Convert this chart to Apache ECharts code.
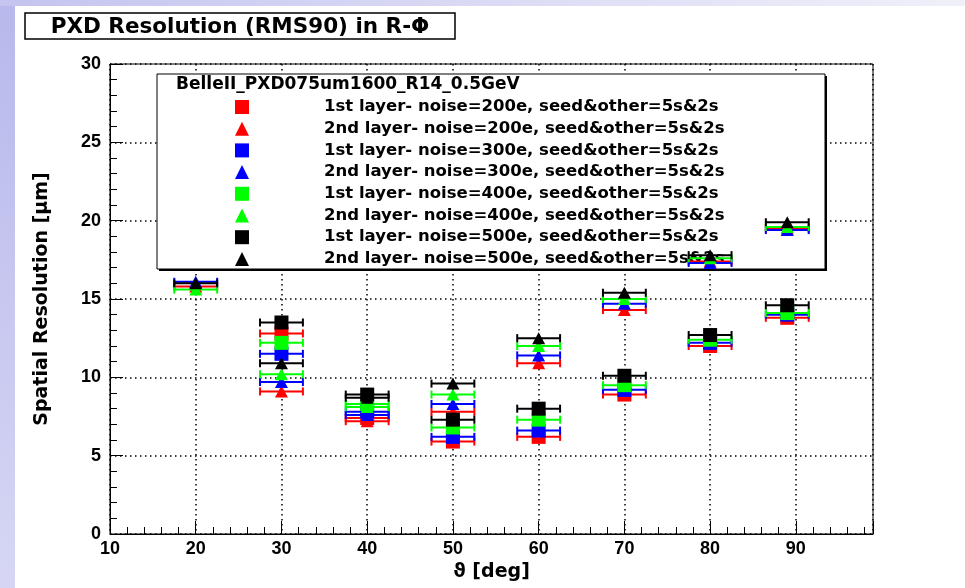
<!DOCTYPE html>
<html><head><meta charset="utf-8">
<script src="https://cdn.jsdelivr.net/npm/echarts@6/dist/echarts.min.js"></script>
<style>html,body{margin:0;padding:0;background:#fff}#c{width:965px;height:588px}</style>
</head><body><div id="c"></div>
<script>
// ---------- texts ----------
const titleText = 'PXD Resolution (RMS90) in R-\u03A6';
const legendHeader = 'BelleII_PXD075um1600_R14_0.5GeV';
const xAxisTitle = '\u03D1 [deg]';
const yAxisTitle = 'Spatial Resolution [\u03BCm]';
// ---------- axes ----------
const xTicks = [10, 20, 30, 40, 50, 60, 70, 80, 90];
const xRange = [10, 99];
const yTicks = [0, 5, 10, 15, 20, 25, 30];
// ---------- data ----------
const xHalfErr = 2.5; // horizontal error (deg)
const anglesL1 = [30, 40, 50, 60, 70, 80, 89];
const anglesL2 = [20, 30, 40, 50, 60, 70, 80, 89];
const seriesNames = [
  '1st layer- noise=200e, seed&other=5s&2s',
  '2nd layer- noise=200e, seed&other=5s&2s',
  '1st layer- noise=300e, seed&other=5s&2s',
  '2nd layer- noise=300e, seed&other=5s&2s',
  '1st layer- noise=400e, seed&other=5s&2s',
  '2nd layer- noise=400e, seed&other=5s&2s',
  '1st layer- noise=500e, seed&other=5s&2s',
  '2nd layer- noise=500e, seed&other=5s&2s'
];
const resL1n200 = [12.8, 7.4, 5.9, 6.2, 8.9, 12.0, 13.8];
const resL2n200 = [15.8, 9.1, 7.2, 7.8, 10.9, 14.3, 17.4, 19.5];
const resL1n300 = [11.5, 7.8, 6.2, 6.6, 9.2, 12.2, 14.0];
const resL2n300 = [16.1, 9.7, 7.6, 8.3, 11.4, 14.7, 17.3, 19.4];
const resL1n400 = [12.2, 8.3, 6.8, 7.3, 9.5, 12.4, 14.1];
const resL2n400 = [15.6, 10.2, 8.1, 8.9, 12.0, 15.0, 17.6, 19.6];
const resL1n500 = [13.5, 8.9, 7.3, 8.0, 10.1, 12.7, 14.6];
const resL2n500 = [16.0, 10.9, 8.7, 9.6, 12.5, 15.4, 17.8, 19.9];

// ---------- build ----------
const FONT = '"Liberation Sans", Arial, Helvetica, sans-serif';
const WFONT = '"DejaVu Sans", Verdana, sans-serif';
const groups = [
  { name: seriesNames[0], x: anglesL1, y: resL1n200, color: '#ff0000', symbol: 'rect' },
  { name: seriesNames[1], x: anglesL2, y: resL2n200, color: '#ff0000', symbol: 'triangle' },
  { name: seriesNames[2], x: anglesL1, y: resL1n300, color: '#0000ff', symbol: 'rect' },
  { name: seriesNames[3], x: anglesL2, y: resL2n300, color: '#0000ff', symbol: 'triangle' },
  { name: seriesNames[4], x: anglesL1, y: resL1n400, color: '#00ff00', symbol: 'rect' },
  { name: seriesNames[5], x: anglesL2, y: resL2n400, color: '#00ff00', symbol: 'triangle' },
  { name: seriesNames[6], x: anglesL1, y: resL1n500, color: '#000000', symbol: 'rect' },
  { name: seriesNames[7], x: anglesL2, y: resL2n500, color: '#000000', symbol: 'triangle' }
];

function errRender(params, api) {
  const x = api.value(0), y = api.value(1);
  const a = api.coord([x - xHalfErr, y]);
  const b = api.coord([x + xHalfErr, y]);
  const c = api.visual('color');
  const cap = 4;
  const st = { stroke: c, lineWidth: 2 };
  return { type: 'group', children: [
    { type: 'line', shape: { x1: a[0], y1: a[1], x2: b[0], y2: b[1] }, style: st },
    { type: 'line', shape: { x1: a[0], y1: a[1] - cap, x2: a[0], y2: a[1] + cap }, style: st },
    { type: 'line', shape: { x1: b[0], y1: b[1] - cap, x2: b[0], y2: b[1] + cap }, style: st }
  ]};
}

const series = [];
groups.forEach((g, i) => {
  const pts = g.x.map((xv, k) => [xv, g.y[k]]);
  series.push({
    type: 'custom', name: g.name + ' (err)', renderItem: errRender, data: pts,
    encode: { x: 0, y: 1 }, itemStyle: { color: g.color }, z: 3 + i * 2, silent: true, animation: false
  });
  series.push({
    type: 'scatter', name: g.name, data: pts, symbol: g.symbol,
    symbolSize: g.symbol === 'rect' ? 14 : [13, 12],
    itemStyle: { color: g.color, opacity: 1 }, z: 4 + i * 2, silent: true, animation: false
  });
});

const axisCommon = {
  axisLine: { show: true, lineStyle: { color: '#000', width: 1 } },
  axisTick: { show: true, inside: true, length: 13, lineStyle: { color: '#000', width: 1 } },
  minorTick: { show: true, splitNumber: 5, length: 7, lineStyle: { color: '#000', width: 1 } },
  splitLine: { show: true, lineStyle: { color: '#000', width: 1.5, type: [1.5, 3.5] } },
  axisLabel: { color: '#000', fontWeight: 'bold', fontSize: 18, fontFamily: FONT },
  nameTextStyle: { color: '#000', fontWeight: 'bold', fontSize: 19, fontFamily: WFONT }
};

const option = {
  animation: false,
  backgroundColor: '#ffffff',
  grid: { left: 110, top: 64, right: 92, bottom: 54, show: true, borderColor: '#000', borderWidth: 1, backgroundColor: '#fff' },
  xAxis: Object.assign({}, axisCommon, {
    type: 'value', min: xRange[0], max: xRange[1], interval: xTicks[1] - xTicks[0],
    axisLabel: Object.assign({}, axisCommon.axisLabel, { showMaxLabel: false, margin: 6 }),
    name: xAxisTitle, nameLocation: 'middle', nameGap: 29
  }),
  yAxis: Object.assign({}, axisCommon, {
    type: 'value', min: yTicks[0], max: yTicks[yTicks.length - 1], interval: yTicks[1] - yTicks[0],
    axisLabel: Object.assign({}, axisCommon.axisLabel, { margin: 9 }),
    name: yAxisTitle, nameLocation: 'middle', nameGap: 58, nameRotate: 90
  }),
  legend: {
    data: groups.map(g => g.name), orient: 'vertical', left: 235, top: 97, padding: 0,
    itemWidth: 14, itemHeight: 14, itemGap: 1.7, selectedMode: false, z: 2,
    textStyle: { color: '#000', fontWeight: 'bold', fontSize: 16.5, lineHeight: 20, fontFamily: WFONT, padding: [0, 0, 0, 70] }
  },
  graphic: [
    { type: 'rect', z: 0, shape: { x: 0, y: 0, width: 15, height: 588 }, silent: true,
      style: { fill: new echarts.graphic.LinearGradient(0, 0, 0, 1, [{ offset: 0, color: '#b8b8ec' }, { offset: 1, color: '#d6d6f4' }]) } },
    { type: 'rect', z: 0, shape: { x: 0, y: 0, width: 965, height: 6 }, silent: true,
      style: { fill: new echarts.graphic.LinearGradient(0, 0, 1, 0, [{ offset: 0, color: '#c4c4f0' }, { offset: 1, color: '#f0f0fa' }]) } },
    { type: 'rect', z: 1, shape: { x: 25, y: 13, width: 430, height: 26 }, silent: true,
      style: { fill: '#fff', stroke: '#000', lineWidth: 1.5 } },
    { type: 'text', z: 1, x: 240, y: 27, silent: true,
      style: { text: titleText, fill: '#000', font: 'bold 21.5px ' + WFONT, align: 'center', verticalAlign: 'middle', textAlign: 'center', textVerticalAlign: 'middle' } },
    { type: 'rect', z: 1, shape: { x: 159, y: 76, width: 668, height: 195 }, silent: true, style: { fill: '#000' } },
    { type: 'rect', z: 1, shape: { x: 157, y: 74, width: 668, height: 195 }, silent: true,
      style: { fill: '#fff', stroke: '#000', lineWidth: 1 } },
    { type: 'text', z: 2, x: 176, y: 85, silent: true,
      style: { text: legendHeader, fill: '#000', font: 'bold 17px ' + WFONT, align: 'left', verticalAlign: 'middle', textAlign: 'left', textVerticalAlign: 'middle' } }
  ],
  series: series
};

const chart = echarts.init(document.getElementById('c'));
chart.setOption(option);
</script>
</body></html>
